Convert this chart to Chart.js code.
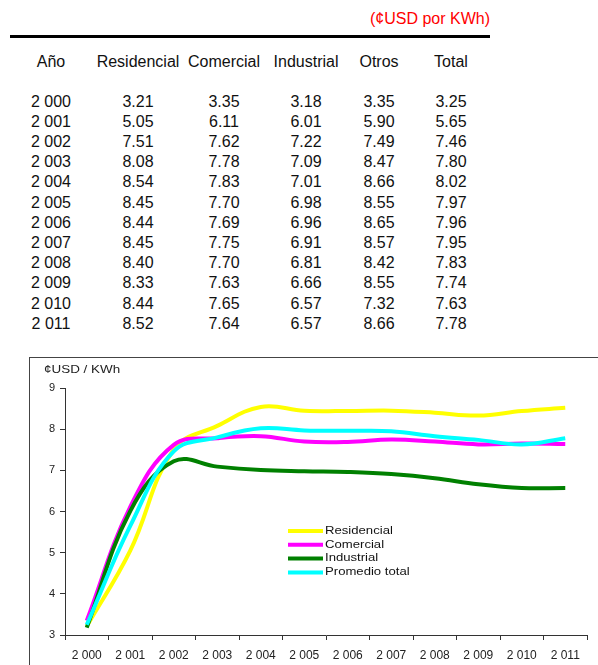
<!DOCTYPE html>
<html>
<head>
<meta charset="utf-8">
<script src="https://cdn.jsdelivr.net/npm/chart.js@4/dist/chart.umd.min.js"></script>
<style>
  body { margin: 0; background: #fff; font-family: "Liberation Sans", Arial, sans-serif; }
  #page { position: relative; width: 598px; height: 665px; overflow: hidden; background: #fff; }
  .unit { position: absolute; right: 108px; top: 10px; color: #f00; font-size: 16px; line-height: 18px; }
  .rule { position: absolute; left: 10px; top: 35px; width: 480px; height: 3px; background: #000; }
  .cell { position: absolute; transform: translate(-50%, -50%); font-size: 16px; line-height: 18px; white-space: nowrap; color: #111; }
  #box { position: absolute; left: 29px; top: 357px; width: 620px; height: 400px; border: 1px solid #444; }
  #ytitle { position: absolute; left: 44px; top: 363px; font-size: 10.5px; line-height: 12px; color: #222;
            transform-origin: left center; transform: scaleX(1.28); white-space: nowrap; }
  #wrap { position: absolute; left: 30px; top: 358px; width: 568px; height: 307px; }
</style>
</head>
<body>
<div id="page">
  <div class="unit">(¢USD por KWh)</div>
  <div class="rule"></div>
  <div id="table"></div>
  <div id="box"></div>
  <div id="wrap"><canvas id="chart" width="568" height="307"></canvas></div>
  <div id="ytitle">¢USD / KWh</div>
</div>
<script>
// Average electricity price by sector, cents of USD per kWh
const years       = ['2 000','2 001','2 002','2 003','2 004','2 005','2 006','2 007','2 008','2 009','2 010','2 011'];
const residencial = [3.21, 5.05, 7.51, 8.08, 8.54, 8.45, 8.44, 8.45, 8.40, 8.33, 8.44, 8.52];
const comercial   = [3.35, 6.11, 7.62, 7.78, 7.83, 7.70, 7.69, 7.75, 7.70, 7.63, 7.65, 7.64];
const industrial  = [3.18, 6.01, 7.22, 7.09, 7.01, 6.98, 6.96, 6.91, 6.81, 6.66, 6.57, 6.57];
const otros       = [3.35, 5.90, 7.49, 8.47, 8.66, 8.55, 8.65, 8.57, 8.42, 8.55, 7.32, 8.66];
const total       = [3.25, 5.65, 7.46, 7.80, 8.02, 7.97, 7.96, 7.95, 7.83, 7.74, 7.63, 7.78];

const headers = ['Año', 'Residencial', 'Comercial', 'Industrial', 'Otros', 'Total'];

// Table layout: column centres and row positions
const colCenters = [51, 138, 224, 306, 379, 451];
const headerY = 62, firstRowY = 101.5, rowStep = 20.2;

const table = document.getElementById('table');
function addCell(text, x, y) {
  const d = document.createElement('div');
  d.className = 'cell';
  d.textContent = text;
  d.style.left = x + 'px';
  d.style.top = y + 'px';
  table.appendChild(d);
}
headers.forEach((h, c) => addCell(h, colCenters[c], headerY));
const columns = [residencial, comercial, industrial, otros, total];
years.forEach((yr, r) => {
  const y = firstRowY + r * rowStep;
  addCell(yr, colCenters[0], y);
  columns.forEach((col, c) => addCell(col[r].toFixed(2), colCenters[c + 1], y));
});

// Legend drawn inside the plot area
const insideLegend = {
  id: 'insideLegend',
  afterDatasetsDraw(chart) {
    const { ctx, chartArea } = chart;
    const x0 = chartArea.left + 223, y0 = chartArea.top + 143, step = 13.8;
    chart.data.datasets.forEach((ds, i) => {
      const y = y0 + i * step;
      ctx.save();
      ctx.strokeStyle = ds.borderColor;
      ctx.lineWidth = 4;
      ctx.beginPath();
      ctx.moveTo(x0, y);
      ctx.lineTo(x0 + 35, y);
      ctx.stroke();
      ctx.translate(x0 + 37, y);
      ctx.scale(1.25, 1);
      ctx.fillStyle = '#111';
      ctx.font = '10.5px "Liberation Sans", Arial, sans-serif';
      ctx.textBaseline = 'middle';
      ctx.fillText(ds.label, 0, 0);
      ctx.restore();
    });
  }
};

const fontFamily = '"Liberation Sans", Arial, sans-serif';
function series(label, data, color, order) {
  return { label, data, borderColor: color, backgroundColor: color, borderWidth: 4,
           pointRadius: 0, tension: 0.4, fill: false, order };
}

new Chart(document.getElementById('chart'), {
  type: 'line',
  data: {
    labels: years,
    datasets: [
      series('Residencial', residencial, '#ffff00', 3),
      series('Comercial', comercial, '#ff00ff', 2),
      series('Industrial', industrial, '#008000', 1),
      series('Promedio total', total, '#00ffff', 0)
    ]
  },
  options: {
    responsive: false,
    animation: false,
    devicePixelRatio: 1,
    layout: { padding: { top: 30, right: 11, left: 0, bottom: 0 } },
    plugins: { legend: { display: false }, tooltip: { enabled: false }, title: { display: false } },
    scales: {
      x: {
        type: 'category',
        offset: true,
        grid: { display: true, offset: true, drawOnChartArea: false, drawTicks: true, tickLength: 5, color: '#333' },
        border: { display: true, color: '#333', width: 1 },
        ticks: { font: { size: 12, family: fontFamily }, color: '#222', padding: 8, maxRotation: 0, autoSkip: false },
        afterFit(s) { s.height = 30; }
      },
      y: {
        min: 3, max: 9,
        grid: { display: true, drawOnChartArea: false, drawTicks: true, tickLength: 5, color: '#333' },
        border: { display: true, color: '#333', width: 1 },
        ticks: { stepSize: 1, font: { size: 11, family: fontFamily }, color: '#222', padding: 5 },
        afterFit(s) { s.width = 35; }
      }
    }
  },
  plugins: [insideLegend]
});
</script>
</body>
</html>
